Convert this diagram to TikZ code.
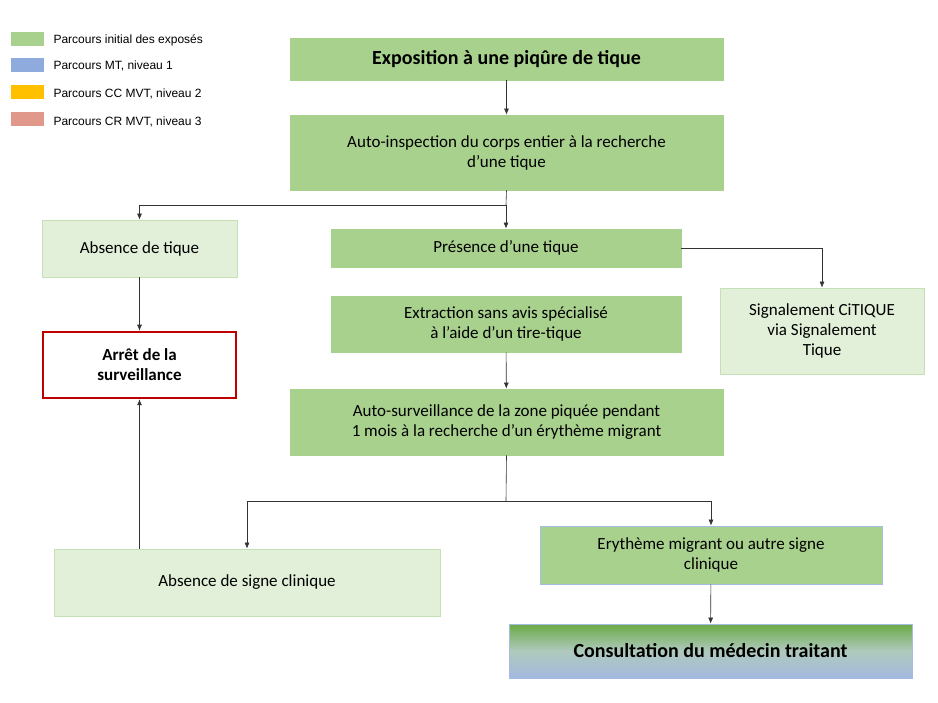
\documentclass[tikz,border=0pt]{standalone}
\usetikzlibrary{arrows.meta}
\usepackage{fontspec}
\setmainfont{Carlito}
\newfontfamily\legfont{Liberation Sans}
\definecolor{gA}{HTML}{A9D18E}
\definecolor{gL}{HTML}{E2EFD9}
\definecolor{gB}{HTML}{C5E0B4}
\definecolor{bA}{HTML}{8FAADC}
\definecolor{oA}{HTML}{FFC000}
\definecolor{rA}{HTML}{E0988A}
\definecolor{gD}{HTML}{6AAA45}
\definecolor{bD}{HTML}{A4B8DF}
\begin{document}
\begin{tikzpicture}[x=1pt,y=-1pt,
 box/.style={draw=gA,fill=gA,line width=0.8pt,align=center,font=\fontsize{17}{20}\selectfont,inner sep=0pt},
 lbox/.style={draw=gB,fill=gL,line width=0.8pt,align=center,font=\fontsize{17}{20}\selectfont,inner sep=0pt},
 con/.style={draw=black!80,line width=0.6pt},
 arr/.style={con,-{Latex[length=6pt,width=5pt]}},
 leg/.style={anchor=west,font=\legfont\fontsize{12}{14}\selectfont}]
\useasboundingbox (0,0) rectangle (938,703);
% legend
\fill[gA] (11,32) rectangle (44,46); \node[leg] (l1) at (50,40) {Parcours initial des exposés};
\fill[bA] (11,58) rectangle (44,72); \node[leg] (l2) at (50,66) {Parcours MT, niveau 1};
\fill[oA] (11,85) rectangle (44,99); \node[leg] (l3) at (50,94) {Parcours CC MVT, niveau 2};
\fill[rA] (11,112) rectangle (44,126); \node[leg] (l4) at (50,122) {Parcours CR MVT, niveau 3};
% boxes
\node[box,minimum width=433,minimum height=42,font=\bfseries\fontsize{20}{24}\selectfont] (expo) at (506.5,59) {Exposition à une piqûre de tique};
\node[box,minimum width=433,minimum height=75] (auto) at (506.5,152.5) {Auto-inspection du corps entier à la recherche\\d’une tique};
\node[lbox,minimum width=195,minimum height=57] (abs) at (139.5,248.5) {Absence de tique};
\node[box,minimum width=350,minimum height=38] (pres) at (506,248) {Présence d’une tique};
\node[lbox,minimum width=204,minimum height=86] (sig) at (822,331) {Signalement CiTIQUE\\via Signalement\\Tique};
\node[box,minimum width=350,minimum height=56] (extr) at (506,324) {Extraction sans avis spécialisé\\à l’aide d’un tire-tique};
\node[draw=red!75!black,fill=white,line width=2.5pt,minimum width=193,minimum height=66,align=center,inner sep=0pt,font=\bfseries\fontsize{17}{20}\selectfont] (arret) at (139.5,365) {Arrêt de la\\surveillance};
\node[box,minimum width=433,minimum height=66] (surv) at (506.5,422) {Auto-surveillance de la zone piquée pendant\\1 mois à la recherche d’un érythème migrant};
\node[lbox,minimum width=386,minimum height=67] (absc) at (247,582.5) {Absence de signe clinique};
\node[box,draw=bA!80,minimum width=342,minimum height=58] (ery) at (711,555) {Erythème migrant ou autre signe\\clinique};
\node[draw=bA!80,line width=0.8pt,top color=gD,bottom color=bD,middle color=bD!60!gD!70,minimum width=403,minimum height=54,inner sep=0pt,font=\bfseries\fontsize{20}{24}\selectfont] (cons) at (710.5,651) {Consultation du médecin traitant};
% connectors
\draw[arr] (expo) -- (auto);
\coordinate (j1) at (506,205);
\draw[con] (auto.south) -- (j1);
\draw[arr] (j1) -| (abs.north);
\draw[arr] (j1) -- (pres.north);
\draw[arr] (pres.east) -| (sig.north);
\draw[arr] (abs) -- (arret);
\draw[arr] (extr) -- (surv);
\coordinate (j2) at (506,501);
\draw[con] (surv.south) -- (j2);
\draw[arr] (j2) -| (absc.north);
\draw[arr] (j2) -| (ery.north);
\draw[arr] (absc.north -| arret.south) -- (arret.south);
\draw[arr] (ery) -- (cons);
\end{tikzpicture}
\end{document}
